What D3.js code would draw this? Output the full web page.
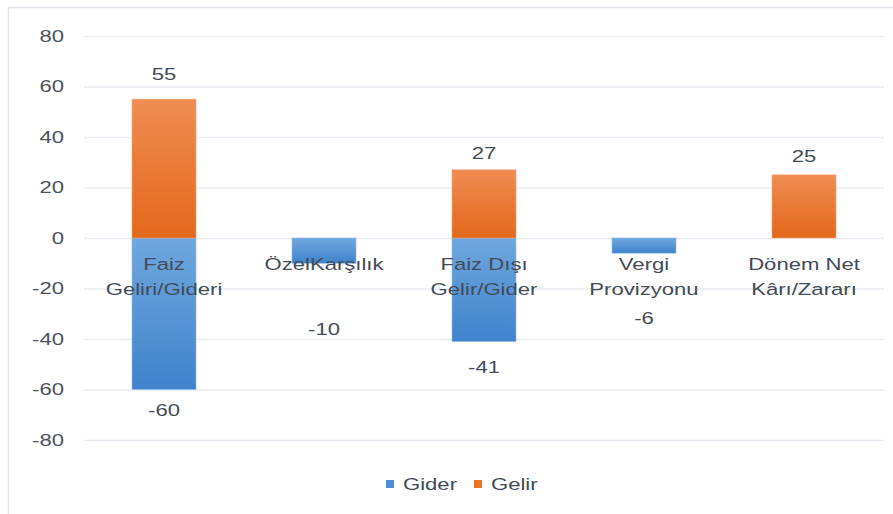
<!DOCTYPE html>
<html>
<head>
<meta charset="utf-8">
<script src="https://cdn.jsdelivr.net/npm/d3@7"></script>
<style>
  html, body { margin: 0; padding: 0; background: #ffffff; }
  svg { display: block; }
  text { font-family: "Liberation Sans", Arial, sans-serif; }
</style>
</head>
<body>
<svg id="chart" width="893" height="514"></svg>
<script>
// Kategoriler (çok satırlı etiketler)
const categories = [
  ["Faiz", "Geliri/Gideri"],
  ["ÖzelKarşılık"],
  ["Faiz Dışı", "Gelir/Gider"],
  ["Vergi", "Provizyonu"],
  ["Dönem Net", "Kârı/Zararı"]
];
const giderValues = [-60, -10, -41, -6, null];
const gelirValues = [55, null, 27, null, 25];
const yTicks = [80, 60, 40, 20, 0, -20, -40, -60, -80];
const seriesNames = ["Gider", "Gelir"];

// Manual label nudges (px) so value labels clear the category text
const giderLabelNudge = [20, 66, 25, 65, 0];
const gelirLabelNudge = [19, 0, 11, 0, 13];

const width = 893, height = 514;
const margin = { left: 84, right: 9, top: 36, bottom: 74 };
const FS = 17;        // font size
const SX = 1.3;       // horizontal text stretch
const textColor = "#434b58";

const svg = d3.select("#chart");

// Chart frame
svg.append("path")
  .attr("d", `M8.5,${height} V7.5 H${width}`)
  .attr("fill", "none")
  .attr("stroke", "#dfe4ea")
  .attr("stroke-width", 1.5);

const x = d3.scaleBand()
  .domain(d3.range(categories.length))
  .range([margin.left, width - margin.right])
  .paddingInner(0.6)
  .paddingOuter(0.3);

const y = d3.scaleLinear()
  .domain([-80, 80])
  .range([height - margin.bottom, margin.top]);

// Gridlines
svg.append("g")
  .selectAll("line")
  .data(yTicks)
  .join("line")
  .attr("x1", margin.left)
  .attr("x2", width - margin.right)
  .attr("y1", d => y(d) + 0.5)
  .attr("y2", d => y(d) + 0.5)
  .attr("stroke", "#e8ecf1")
  .attr("stroke-width", 1.5);

// Y axis labels
const yAxis = d3.axisLeft(y).tickValues(yTicks).tickSize(0).tickPadding(0)
  .tickFormat(d => String(d));
const yg = svg.append("g")
  .attr("transform", `translate(64,0)`)
  .call(yAxis);
yg.select(".domain").remove();
yg.selectAll("text")
  .attr("x", 0)
  .attr("font-size", FS)
  .attr("fill", "#4a5260")
  .attr("transform", `scale(${SX},1)`)
  .attr("font-family", '"Liberation Sans", Arial, sans-serif');

// Gradients
const defs = svg.append("defs");
function grad(id, top, bottom) {
  const g = defs.append("linearGradient")
    .attr("id", id).attr("x1", 0).attr("y1", 0).attr("x2", 0).attr("y2", 1);
  g.append("stop").attr("offset", "0%").attr("stop-color", top);
  g.append("stop").attr("offset", "100%").attr("stop-color", bottom);
}
grad("gGider", "#6fa7de", "#3f83cc");
grad("gGelir", "#f08c52", "#e3681a");

const bw = x.bandwidth();
const xc = i => x(i) + bw / 2;

// Gider bars
const giderData = giderValues.map((v, i) => ({ v, i })).filter(d => d.v != null);
svg.append("g")
  .selectAll("rect")
  .data(giderData)
  .join("rect")
  .attr("x", d => x(d.i))
  .attr("width", bw)
  .attr("y", y(0))
  .attr("height", d => y(d.v) - y(0))
  .attr("fill", "url(#gGider)")
  .attr("stroke", "#8fbbe6")
  .attr("stroke-width", 0.6);

// Gelir bars
const gelirData = gelirValues.map((v, i) => ({ v, i })).filter(d => d.v != null);
svg.append("g")
  .selectAll("rect")
  .data(gelirData)
  .join("rect")
  .attr("x", d => x(d.i))
  .attr("width", bw)
  .attr("y", d => y(d.v))
  .attr("height", d => y(0) - y(d.v))
  .attr("fill", "url(#gGelir)")
  .attr("stroke", "#f4a677")
  .attr("stroke-width", 0.6);

// Stretched text helper: anchor at (px, py)
function stretchedText(parent, px, py, anchor) {
  return parent.append("g")
    .attr("transform", `translate(${px},${py}) scale(${SX},1)`)
    .append("text")
    .attr("x", 0).attr("y", 0)
    .attr("text-anchor", anchor)
    .attr("font-size", FS)
    .attr("fill", textColor);
}

// Category labels
const catG = svg.append("g");
categories.forEach((lines, i) => {
  const t = stretchedText(catG, xc(i), y(0) + 32, "middle");
  lines.forEach((ln, k) => {
    t.append("tspan").attr("x", 0).attr("dy", k === 0 ? 0 : 25.5).text(ln);
  });
});

// Value labels
const valG = svg.append("g");
gelirData.forEach(d => {
  stretchedText(valG, xc(d.i), y(d.v) - gelirLabelNudge[d.i] - 0, "middle").text(d.v);
});
giderData.forEach(d => {
  stretchedText(valG, xc(d.i), y(d.v) + giderLabelNudge[d.i] + 6, "middle").text(d.v);
});

// Legend
const legend = svg.append("g");
const legendItems = [
  { name: seriesNames[0], color: "#4a8fd6", x: 386 },
  { name: seriesNames[1], color: "#ee7424", x: 474 }
];
legendItems.forEach(it => {
  legend.append("rect")
    .attr("x", it.x).attr("y", 480)
    .attr("width", 8).attr("height", 8)
    .attr("fill", it.color);
  stretchedText(legend, it.x + 17, 490, "start").text(it.name);
});
</script>
</body>
</html>
